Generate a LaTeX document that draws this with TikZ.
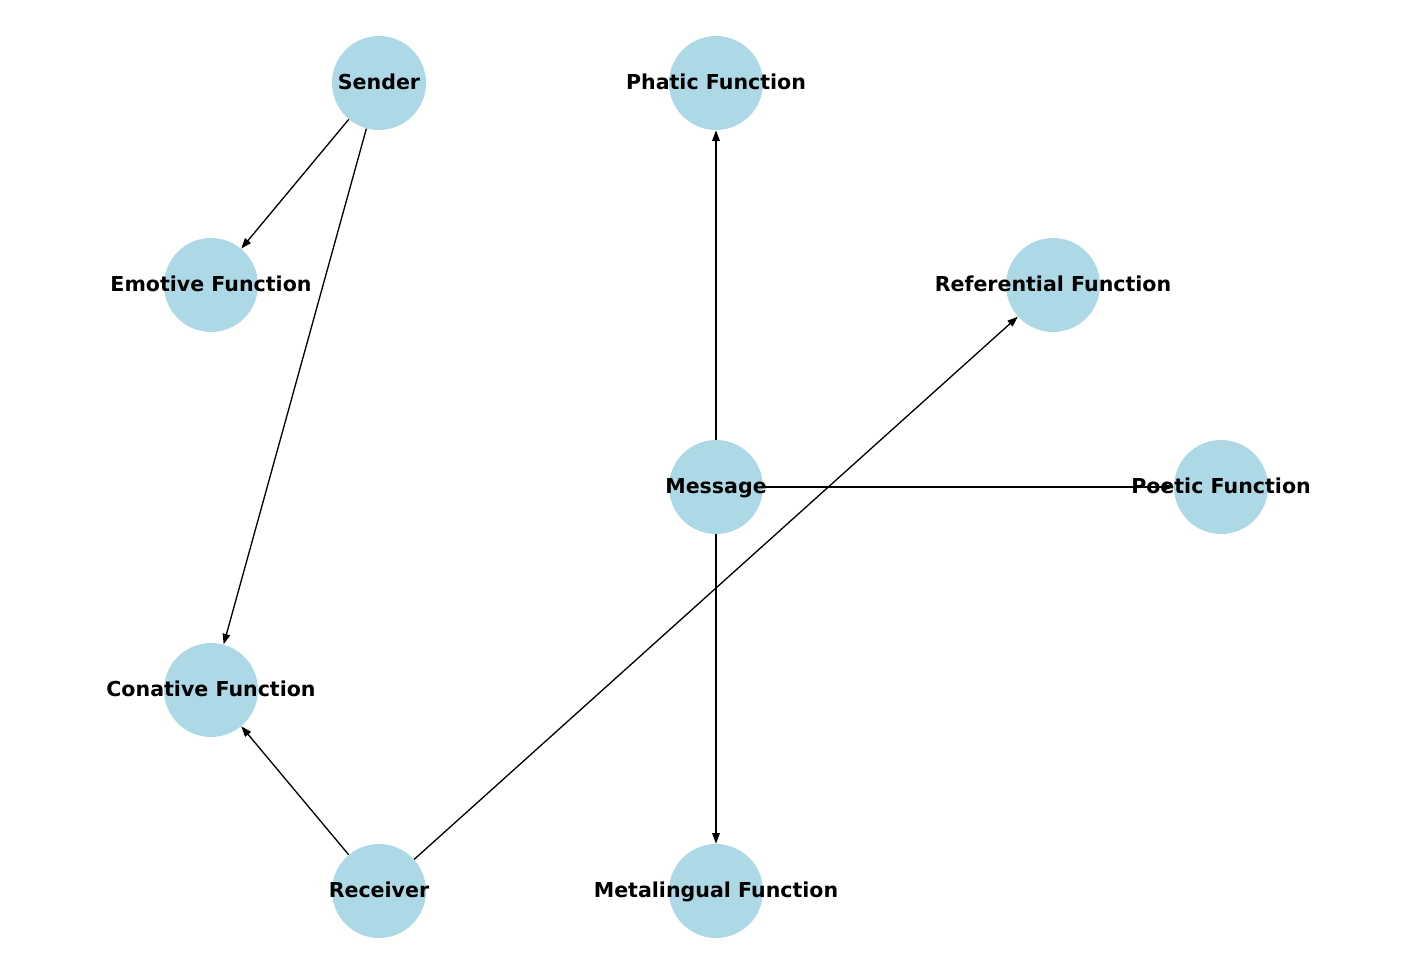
\documentclass[tikz,border=0pt]{standalone}
\usepackage{fontspec}
\setmainfont{DejaVu Sans}
\usetikzlibrary{arrows.meta}
\definecolor{nodeblue}{HTML}{ADD8E6}
\begin{document}
\begin{tikzpicture}[x=0.02cm,y=-0.02cm,
  fnode/.style={circle,fill=nodeblue,minimum size=1.88cm,inner sep=0pt},
  flabel/.style={font=\fontsize{11.7}{13}\selectfont\bfseries,inner sep=0pt,text height=8.5pt,text depth=0pt},
  fedge/.style={-{Triangle[length=0.21cm,width=0.15cm]},line width=0.75pt}]
\useasboundingbox (0,0) rectangle (1406,960);
\node[fnode] (snd) at (379,83) {};
\node[fnode] (pha) at (716,83) {};
\node[fnode] (emo) at (211,285) {};
\node[fnode] (ref) at (1053,285) {};
\node[fnode] (msg) at (716,487) {};
\node[fnode] (poe) at (1221,487) {};
\node[fnode] (con) at (211,690) {};
\node[fnode] (rcv) at (379,891) {};
\node[fnode] (met) at (716,891) {};
\draw[fedge] (snd) -- (emo);
\draw[fedge] (snd) -- (con);
\draw[fedge] (msg) -- (pha);
\draw[fedge] (msg) -- (poe);
\draw[fedge] (msg) -- (met);
\draw[fedge] (rcv) -- (con);
\draw[fedge] (rcv) -- (ref);
\node[flabel] (sndt) at (379,82) {Sender};
\node[flabel] (phat) at (716,82) {Phatic Function};
\node[flabel] (emot) at (211,284) {Emotive Function};
\node[flabel] (reft) at (1053,284) {Referential Function};
\node[flabel] (msgt) at (716,486) {Message};
\node[flabel] (poet) at (1221,486) {Poetic Function};
\node[flabel] (cont) at (211,689) {Conative Function};
\node[flabel] (rcvt) at (379,890) {Receiver};
\node[flabel] (mett) at (716,890) {Metalingual Function};
\end{tikzpicture}
\end{document}
